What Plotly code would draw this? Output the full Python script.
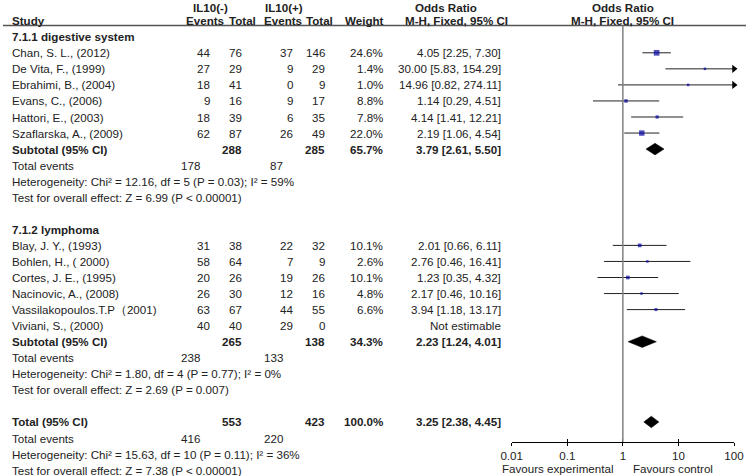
import math
import plotly.graph_objects as go

# ---------------- data ----------------
g1_title = "7.1.1 digestive system"
g1_studies = ["Chan, S. L., (2012)", "De Vita, F., (1999)", "Ebrahimi, B., (2004)",
              "Evans, C., (2006)", "Hattori, E., (2003)", "Szaflarska, A., (2009)"]
g1_ev_neg = [44, 27, 18, 9, 18, 62]
g1_tot_neg = [76, 29, 41, 16, 39, 87]
g1_ev_pos = [37, 9, 0, 9, 6, 26]
g1_tot_pos = [146, 29, 9, 17, 35, 49]
g1_weight = [24.6, 1.4, 1.0, 8.8, 7.8, 22.0]
g1_or = [4.05, 30.00, 14.96, 1.14, 4.14, 2.19]
g1_lo = [2.25, 5.83, 0.82, 0.29, 1.41, 1.06]
g1_hi = [7.30, 154.29, 274.11, 4.51, 12.21, 4.54]
g1_sub = {"tot_neg": 288, "tot_pos": 285, "weight": 65.7, "or": 3.79, "lo": 2.61, "hi": 5.50,
          "ev_neg": 178, "ev_pos": 87,
          "het": "Heterogeneity: Chi² = 12.16, df = 5 (P = 0.03); I² = 59%",
          "test": "Test for overall effect: Z = 6.99 (P < 0.00001)"}

g2_title = "7.1.2 lymphoma"
g2_studies = ["Blay, J. Y., (1993)", "Bohlen, H., ( 2000)", "Cortes, J. E., (1995)",
              "Nacinovic, A., (2008)", "Vassilakopoulos.T.P（2001)", "Viviani, S., (2000)"]
g2_ev_neg = [31, 58, 20, 26, 63, 40]
g2_tot_neg = [38, 64, 26, 30, 67, 40]
g2_ev_pos = [22, 7, 19, 12, 44, 29]
g2_tot_pos = [32, 9, 26, 16, 55, 0]
g2_weight = [10.1, 2.6, 10.1, 4.8, 6.6, None]
g2_or = [2.01, 2.76, 1.23, 2.17, 3.94, None]
g2_lo = [0.66, 0.46, 0.35, 0.46, 1.18, None]
g2_hi = [6.11, 16.41, 4.32, 10.16, 13.17, None]
g2_sub = {"tot_neg": 265, "tot_pos": 138, "weight": 34.3, "or": 2.23, "lo": 1.24, "hi": 4.01,
          "ev_neg": 238, "ev_pos": 133,
          "het": "Heterogeneity: Chi² = 1.80, df = 4 (P = 0.77); I² = 0%",
          "test": "Test for overall effect: Z = 2.69 (P = 0.007)"}

overall = {"tot_neg": 553, "tot_pos": 423, "weight": 100.0, "or": 3.25, "lo": 2.38, "hi": 4.45,
           "ev_neg": 416, "ev_pos": 220,
           "het": "Heterogeneity: Chi² = 15.63, df = 10 (P = 0.11); I² = 36%",
           "test": "Test for overall effect: Z = 7.38 (P < 0.00001)"}

tick_vals = [0.01, 0.1, 1, 10, 100]
tick_text = ["0.01", "0.1", "1", "10", "100"]
x_min, x_max = 0.01, 100

# ---------------- layout constants (pixels) ----------------
W, H = 746, 476
FONT = "Liberation Sans, Arial, sans-serif"
FS = 11.6
TXT = "#222222"
ROW0_PX, ROW_PX = 20.7, 16.05
TOP_PX, AXIS_PX = 25.5, 441.7
PLOT_L, PLOT_R = 511.7, 734.0
FAV_PX = 468.5

COL_STUDY = 10
COL_EVN, COL_TOTN, COL_EVP, COL_TOTP, COL_W, COL_OR = 212, 244, 295, 327, 385, 503
TE_SHIFT = 10

k_top = (TOP_PX - ROW0_PX) / ROW_PX
k_bot = (AXIS_PX - ROW0_PX) / ROW_PX


def yp(k):
    return 1 - (ROW0_PX + ROW_PX * k) / H


fig = go.Figure()
ann = []


def txt(xpx, k, s, anchor="right", bold=False, xref="paper"):
    x = xpx / W if xref == "paper" else math.log10(xpx)
    ann.append(dict(x=x, xref=xref, y=yp(k), yref="paper", text=f"<b>{s}</b>" if bold else s,
                    xanchor=anchor, yanchor="middle", showarrow=False,
                    font=dict(family=FONT, size=FS, color=TXT)))


# headers
hk = -0.85
txt(210, hk, "IL10(-)", "center", True)
txt(284, hk, "IL10(+)", "center", True)
txt(446, hk, "Odds Ratio", "center", True)
txt(1, hk, "Odds Ratio", "center", True, xref="x")
txt(COL_STUDY, 0, "Study", "left", True)
txt(205, 0, "Events", "center", True)
txt(242, 0, "Total", "center", True)
txt(283, 0, "Events", "center", True)
txt(319, 0, "Total", "center", True)
txt(364, 0, "Weight", "center", True)
txt(456, 0, "M-H, Fixed, 95% CI", "center", True)
txt(1, 0, "M-H, Fixed, 95% CI", "center", True, xref="x")

ci_x, ci_y = [], []
sq_x, sq_y, sq_s = [], [], []
ar_x, ar_y = [], []
diamonds = []


def fmt_or(o, l, h):
    return f"{o:.2f} [{l:.2f}, {h:.2f}]"


def summary(k, label, sub):
    txt(COL_STUDY, k, label, "left", True)
    txt(COL_TOTN, k, str(sub["tot_neg"]), bold=True)
    txt(COL_TOTP, k, str(sub["tot_pos"]), bold=True)
    txt(COL_W, k, f"{sub['weight']:.1f}%", bold=True)
    txt(COL_OR, k, fmt_or(sub["or"], sub["lo"], sub["hi"]), bold=True)
    diamonds.append((k, sub["lo"], sub["or"], sub["hi"]))
    k += 1
    txt(COL_STUDY, k, "Total events", "left")
    txt(COL_EVN - TE_SHIFT, k, str(sub["ev_neg"]))
    txt(COL_EVP - TE_SHIFT, k, str(sub["ev_pos"]))
    k += 1
    txt(COL_STUDY, k, sub["het"], "left")
    k += 1
    txt(COL_STUDY, k, sub["test"], "left")
    k += 1
    return k


def group(k, title, studies, evn, totn, evp, totp, wt, ors, los, his, sub):
    txt(COL_STUDY, k, title, "left", True)
    k += 1
    for i, s in enumerate(studies):
        txt(COL_STUDY, k, s, "left")
        txt(COL_EVN, k, str(evn[i]))
        txt(COL_TOTN, k, str(totn[i]))
        txt(COL_EVP, k, str(evp[i]))
        txt(COL_TOTP, k, str(totp[i]))
        if ors[i] is None:
            txt(COL_OR, k, "Not estimable")
        else:
            txt(COL_W, k, f"{wt[i]:.1f}%")
            txt(COL_OR, k, fmt_or(ors[i], los[i], his[i]))
            ci_x.extend([los[i], his[i], None])
            ci_y.extend([-k, -k, None])
            sq_x.append(ors[i]); sq_y.append(-k)
            sq_s.append(max(2.5, 1.15 * math.sqrt(wt[i])))
            if his[i] > x_max:
                ar_x.append(x_max); ar_y.append(-k)
        k += 1
    return summary(k, "Subtotal (95% CI)", sub)


k = 1
k = group(k, g1_title, g1_studies, g1_ev_neg, g1_tot_neg, g1_ev_pos, g1_tot_pos,
          g1_weight, g1_or, g1_lo, g1_hi, g1_sub)
k += 1
k = group(k, g2_title, g2_studies, g2_ev_neg, g2_tot_neg, g2_ev_pos, g2_tot_pos,
          g2_weight, g2_or, g2_lo, g2_hi, g2_sub)
k += 1
k = summary(k, "Total (95% CI)", overall)

# CI lines
fig.add_trace(go.Scatter(x=ci_x, y=ci_y, mode="lines", line=dict(color="#222222", width=1),
                         hoverinfo="skip", showlegend=False))
# squares
fig.add_trace(go.Scatter(x=sq_x, y=sq_y, mode="markers",
                         marker=dict(symbol="square", size=sq_s, color="#0000a0", line=dict(width=0)),
                         showlegend=False, cliponaxis=False))
# arrows
fig.add_trace(go.Scatter(x=ar_x, y=ar_y, mode="markers",
                         marker=dict(symbol="triangle-right", size=7, color="#000000", line=dict(width=0)),
                         showlegend=False, cliponaxis=False))
# diamonds
DH = 0.36
for (kk, lo, o, hi) in diamonds:
    fig.add_trace(go.Scatter(x=[lo, o, hi, o, lo], y=[-kk, -kk + DH, -kk, -kk - DH, -kk],
                             mode="lines", fill="toself", fillcolor="#000000",
                             line=dict(color="#000000", width=0.5), showlegend=False,
                             hoverinfo="skip"))
# dummy trace for overlay axis (inner ticks)
fig.add_trace(go.Scatter(x=[1], y=[-1], xaxis="x2", mode="markers",
                         marker=dict(opacity=0), showlegend=False, hoverinfo="skip"))

# favours labels
fav_y = 1 - FAV_PX / H
ann.append(dict(x=0, xref="x", y=fav_y, yref="paper", text="Favours experimental",
                xanchor="right", xshift=-8, yanchor="middle", showarrow=False,
                font=dict(family=FONT, size=FS, color=TXT)))
ann.append(dict(x=0, xref="x", y=fav_y, yref="paper", text="Favours control",
                xanchor="left", xshift=8, yanchor="middle", showarrow=False,
                font=dict(family=FONT, size=FS, color=TXT)))

shapes = [
    dict(type="line", xref="paper", yref="paper", x0=3 / W, x1=746 / W,
         y0=1 - TOP_PX / H, y1=1 - TOP_PX / H, line=dict(color="#555555", width=1.5)),
    dict(type="line", xref="x", yref="y domain", x0=1, x1=1, y0=0, y1=1,
         line=dict(color="#808080", width=1.5)),
]

xdom = [PLOT_L / W, PLOT_R / W]
fig.update_layout(
    template="none",
    width=W, height=H, margin=dict(l=0, r=0, t=0, b=0, pad=0, autoexpand=False),
    paper_bgcolor="white", plot_bgcolor="white",
    font=dict(family=FONT, size=FS, color=TXT),
    xaxis=dict(type="log", range=[math.log10(x_min), math.log10(x_max)], domain=xdom,
               tickvals=tick_vals, ticktext=tick_text, ticks="outside", ticklen=3,
               tickcolor="#000", tickwidth=1, showline=True, linecolor="#000", linewidth=1,
               showgrid=False, zeroline=False, automargin=False,
               tickfont=dict(family=FONT, size=FS, color=TXT)),
    xaxis2=dict(type="log", range=[math.log10(x_min), math.log10(x_max)], domain=xdom,
                overlaying="x", anchor="y", side="bottom", tickvals=tick_vals, ticks="inside",
                ticklen=3, tickcolor="#000", tickwidth=1, showticklabels=False,
                showline=False, showgrid=False, zeroline=False, automargin=False),
    yaxis=dict(range=[-k_bot, -k_top], domain=[1 - AXIS_PX / H, 1 - TOP_PX / H],
               visible=False, showgrid=False, zeroline=False, automargin=False),
    annotations=ann, shapes=shapes, showlegend=False,
)
fig.write_html("out.html", config={"displayModeBar": False},
               post_script="document.body.style.margin='0px';document.body.style.overflow='hidden';")
